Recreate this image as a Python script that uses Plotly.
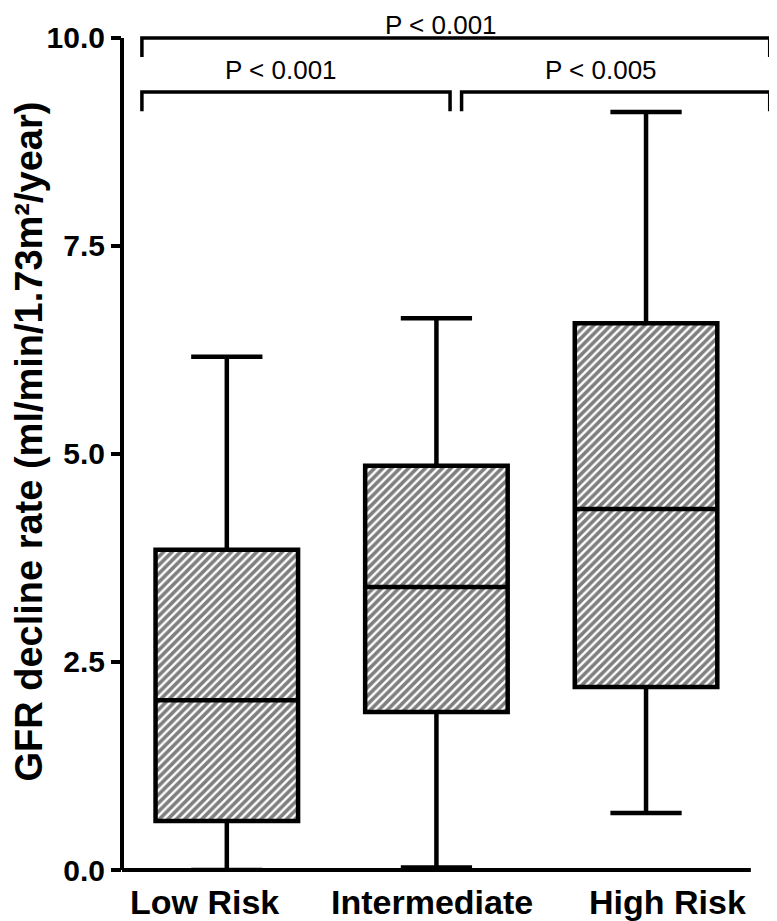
import plotly.graph_objects as go

# ---- data ----
groups = ["Low Risk", "Intermediate", "High Risk"]
q1 = [0.59, 1.90, 2.20]
median = [2.04, 3.40, 4.34]
q3 = [3.85, 4.86, 6.57]
whisker_low = [0.0, 0.03, 0.685]
whisker_high = [6.17, 6.63, 9.11]

y_ticks = [0.0, 2.5, 5.0, 7.5, 10.0]
y_title = "GFR decline rate (ml/min/1.73m²/year)"

# pairwise comparisons: (group a, group b, label)
comparisons = [(0, 2, "P < 0.001"), (0, 1, "P < 0.001"), (1, 2, "P < 0.005")]
bracket_levels = [10.0, 9.35, 9.35]

X_RANGE = [-0.5, 2.62]
Y_RANGE = [0, 10.36]
BOX_W = 0.68
INK = "black"
FONT = "Liberation Sans, Arial"

fig = go.Figure()

# hatched fill of the boxes
fig.add_trace(go.Bar(
    x=groups,
    y=[b - a for a, b in zip(q1, q3)],
    base=q1,
    width=BOX_W,
    marker=dict(
        color="white",
        line=dict(width=0),
        pattern=dict(shape="/", fgcolor=INK, bgcolor="white", size=6, solidity=0.6),
    ),
    hoverinfo="skip",
    showlegend=False,
))

# box outline, median and whiskers
fig.add_trace(go.Box(
    x=groups,
    q1=q1,
    median=median,
    q3=q3,
    lowerfence=whisker_low,
    upperfence=whisker_high,
    width=BOX_W,
    whiskerwidth=0.5,
    fillcolor="rgba(0,0,0,0)",
    line=dict(color=INK, width=4.5),
    hoverinfo="skip",
    showlegend=False,
))

# significance brackets
last = len(groups) - 1
drop = 0.23
for (a, b, label), lvl in zip(comparisons, bracket_levels):
    x0 = -0.405 if a == 0 else a + 0.12
    x1 = 2.59 if b == last else b + 0.065
    fig.add_shape(type="path",
                  path=f"M {x0} {lvl - drop} L {x0} {lvl} L {x1} {lvl} L {x1} {lvl - drop}",
                  line=dict(color=INK, width=3.5), xref="x", yref="y")
    # the top label has no room above it, the lower ones can breathe
    text_y = lvl - 0.035 if lvl >= 10 else lvl + 0.07
    fig.add_annotation(x=(x0 + x1) / 2 - 0.07, y=text_y, text=label,
                       showarrow=False, xanchor="center", yanchor="bottom",
                       borderpad=0,
                       font=dict(family=FONT, size=26, color=INK))

# group labels under the axis (the original spreads them a little)
label_shift = [-22, -4, 21]
for g, dx in zip(groups, label_shift):
    fig.add_annotation(x=g, y=0, xref="x", yref="paper", text=f"<b>{g}</b>",
                       showarrow=False, xanchor="center", yanchor="middle",
                       xshift=dx, yshift=-32,
                       font=dict(family=FONT, size=34, color=INK))

# rotated y title
fig.add_annotation(x=0, y=0.497, xref="paper", yref="paper", text=f"<b>{y_title}</b>",
                   textangle=-90, showarrow=False, xanchor="center", yanchor="middle",
                   xshift=-93, borderpad=0, font=dict(family=FONT, size=38, color=INK))

# axis lines drawn in paper space so they stop at 10.0 and at the last group
top = (10.0 - Y_RANGE[0]) / (Y_RANGE[1] - Y_RANGE[0])
right = (2.5 - X_RANGE[0]) / (X_RANGE[1] - X_RANGE[0])
fig.add_shape(type="line", xref="paper", yref="paper", x0=0, x1=0, y0=0, y1=top,
              line=dict(color=INK, width=4))
fig.add_shape(type="line", xref="paper", yref="paper", x0=0, x1=right, y0=0, y1=0,
              line=dict(color=INK, width=4))

fig.update_layout(
    width=769, height=913,
    margin=dict(l=114, r=1, t=0, b=51),
    paper_bgcolor="white", plot_bgcolor="white",
    showlegend=False,
    boxmode="overlay",
    font=dict(family=FONT, color=INK),
    xaxis=dict(
        range=X_RANGE, showgrid=False, zeroline=False, showline=False,
        ticks="", showticklabels=False, automargin=False,
    ),
    yaxis=dict(
        range=Y_RANGE, showgrid=False, zeroline=False, showline=False,
        tickvals=y_ticks, ticktext=[f"{v:.1f}" for v in y_ticks],
        ticks="outside", ticklen=10, tickwidth=3.5, tickcolor=INK,
        tickfont=dict(size=30, family=FONT, weight="bold"),
        automargin=False,
    ),
)

fig.write_html("out.html")
